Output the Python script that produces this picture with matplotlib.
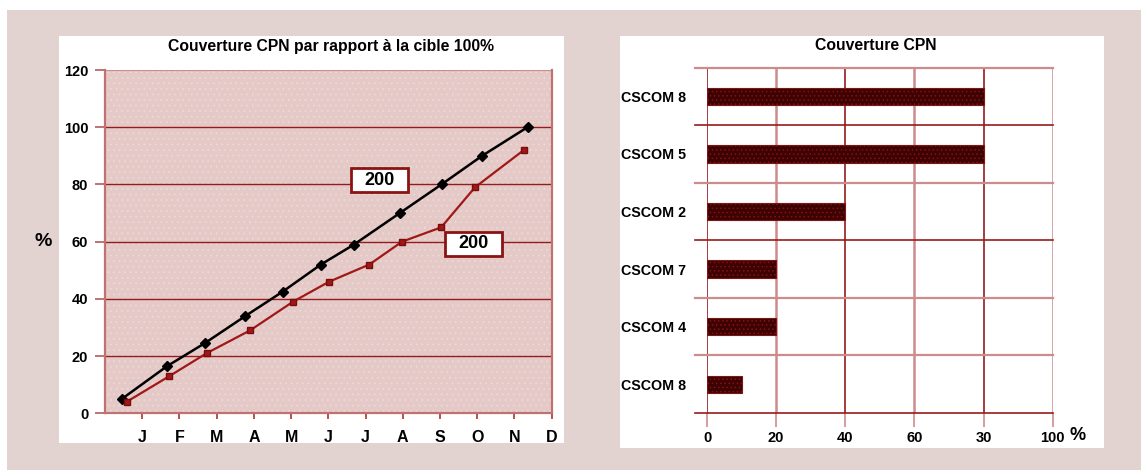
import matplotlib
matplotlib.use("Agg")
import matplotlib.pyplot as plt
from matplotlib.patches import Rectangle

plt.rcParams['font.family'] = ['Liberation Sans', 'DejaVu Sans']
plt.rcParams['hatch.linewidth'] = 0.6

# ---------------- data ----------------
months = ["J", "F", "M", "A", "M", "J", "J", "A", "S", "O", "N", "D"]
yticks_left = [0, 20, 40, 60, 80, 100, 120]

target_x = [0.45, 1.67, 2.68, 3.77, 4.77, 5.80, 6.69, 7.92, 9.04, 10.13, 11.35]
target_y = [5, 16.5, 24.5, 34, 42.5, 52, 59, 70, 80, 90, 100]

actual_x = [0.58, 1.73, 2.73, 3.90, 5.05, 6.02, 7.10, 7.98, 9.03, 9.94, 11.25]
actual_y = [4, 13, 21, 29, 39, 46, 52, 60, 65, 79, 92]

box_labels = ["200", "200"]

cscom_names = ["CSCOM 8", "CSCOM 5", "CSCOM 2", "CSCOM 7", "CSCOM 4", "CSCOM 8"]
cscom_values = [80, 80, 40, 20, 20, 10]
xticks_right = [0, 20, 40, 60, 80, 100]
xticklabels_right = ["0", "20", "40", "60", "30", "100"]

# ---------------- figure ----------------
W, H = 1141, 470
fig = plt.figure(figsize=(W / 100, H / 100), dpi=100, facecolor="white")

BG = "#e2d2d0"
DARK = "#961c1c"
LIGHT = "#cc8c8c"


def px_rect(x0, y0, x1, y1, **kw):
    """rectangle in pixel coordinates (y from top)"""
    return Rectangle((x0 / W, 1 - y1 / H), (x1 - x0) / W, (y1 - y0) / H,
                     transform=fig.transFigure, **kw)


fig.patches.append(px_rect(7, 10, W, H, facecolor=BG, edgecolor="none", zorder=-3))
fig.patches.append(px_rect(59, 36, 564, 443, facecolor="white", edgecolor="none", zorder=-2))
fig.patches.append(px_rect(620, 36, 1104, 448, facecolor="white", edgecolor="none", zorder=-2))


def px_axes(x0, y0, x1, y1):
    a = fig.add_axes([x0 / W, 1 - y1 / H, (x1 - x0) / W, (y1 - y0) / H])
    return a


# ---------------- left chart ----------------
ax = px_axes(105, 70, 551.7, 413.3)
ax.set_facecolor("#e4c9c8")
ax.patch.set_hatch("...")
ax.patch.set_edgecolor("#ebdccb")
ax.patch.set_linewidth(0)

ax.set_xlim(0, 12)
ax.set_ylim(0, 120)
ax.set_xticks(range(1, 13))
ax.set_xticklabels(months)
ax.set_yticks(yticks_left)
ax.set_yticklabels([str(v) for v in yticks_left])

for v in yticks_left[1:-1]:
    ax.axhline(v, color=DARK, lw=1.0, zorder=1)
ax.axhline(yticks_left[-1], color=LIGHT, lw=1.6, zorder=1)

for s in ["left", "bottom", "right"]:
    ax.spines[s].set_color("#c07272")
    ax.spines[s].set_linewidth(1.6)
ax.spines["top"].set_visible(False)

ax.tick_params(axis="x", colors="#b03030", length=4, width=1.2, pad=8,
               labelcolor="black", labelsize=11.5)
ax.tick_params(axis="y", colors="#c07272", length=7, width=1.4, pad=5,
               labelcolor="black", labelsize=10.5)
for lab in ax.get_xticklabels() + ax.get_yticklabels():
    lab.set_fontweight("bold")

ax.plot(target_x, target_y, color="black", lw=1.8, marker="D", ms=5,
        zorder=3, clip_on=False)
ax.plot(actual_x, actual_y, color="#a01818", lw=1.6, marker="s", ms=5,
        mfc="#a01818", mec="#7a0c0c", zorder=3, clip_on=False)

# boxed labels
ax.add_patch(Rectangle((6.60, 77.2), 1.55, 8.4, facecolor="white",
                       edgecolor="#8a1414", lw=2, zorder=4))
ax.text(7.37, 81.4, box_labels[0], ha="center", va="center", fontsize=13,
        fontweight="bold", zorder=5)
ax.add_patch(Rectangle((9.13, 55.0), 1.53, 8.3, facecolor="white",
                       edgecolor="#8a1414", lw=2, zorder=4))
ax.text(9.90, 59.2, box_labels[1], ha="center", va="center", fontsize=13,
        fontweight="bold", zorder=5)

fig.text(331 / W, 1 - 46 / H, "Couverture CPN par rapport à la cible 100%",
         ha="center", va="center", fontsize=11.3, fontweight="bold")
fig.text(43 / W, 1 - 242 / H, "%", ha="center", va="center", fontsize=14,
         fontweight="bold")

# ---------------- right chart ----------------
bx = px_axes(707, 67.5, 1052.7, 413)
bx.set_facecolor("white")
n = len(cscom_names)
pos = list(range(n))
bx.set_xlim(0, 100)
bx.set_ylim(n - 0.5, -0.5)

bx.barh(pos, cscom_values, height=0.3, color="#3e0202",
        edgecolor="#7e1414", hatch="....", lw=0.8, zorder=3)

bx.set_yticks(pos)
bx.set_yticklabels(cscom_names)
bx.tick_params(axis="y", length=0, pad=15, labelsize=10.3)
bx.set_xticks(xticks_right)
bx.set_xticklabels(xticklabels_right)
bx.tick_params(axis="x", length=10, width=1.2, color=LIGHT, pad=3, labelsize=10.5)
for lab in bx.get_xticklabels() + bx.get_yticklabels():
    lab.set_fontweight("bold")

for s in bx.spines.values():
    s.set_visible(False)

# vertical grid lines (alternating dark / light)
for i, v in enumerate(xticks_right):
    if i % 2 == 0:
        bx.axvline(v, color=DARK, lw=1.2, zorder=2)
    else:
        bx.axvline(v, color=LIGHT, lw=1.8, zorder=2)

# horizontal separators between categories
sep_dark = [False, True, False, True, False, False, True]
for i in range(n + 1):
    yb = i - 0.5
    col = DARK if sep_dark[i] else LIGHT
    lw = 1.2 if sep_dark[i] else 1.6
    bx.plot([-3.5, 100], [yb, yb], color=col, lw=lw, zorder=2, clip_on=False)

fig.text(1069 / W, 1 - 436 / H, "%", ha="left", va="center", fontsize=13,
         fontweight="bold")
fig.text(876 / W, 1 - 46 / H, "Couverture CPN", ha="center", va="center",
         fontsize=11.3, fontweight="bold")

fig.savefig("out.png", dpi=100, facecolor="white")
